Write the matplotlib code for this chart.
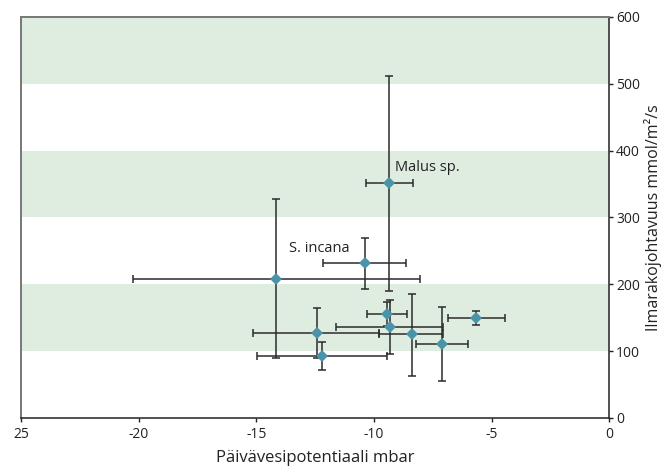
import matplotlib.pyplot as plt

# Daytime water potential (mbar) vs. stomatal conductance (mmol/m2/s)
potential = [-14.15, -10.4, -9.35, -9.45, -9.3, -8.4, -7.1, -5.65, -12.4, -12.2]
pot_low = [-20.25, -12.15, -10.35, -10.3, -11.6, -9.8, -8.2, -6.85, -15.15, -14.95]
pot_high = [-8.05, -8.65, -8.35, -8.6, -7.05, -7.05, -6.0, -4.45, -9.8, -9.45]

conductance = [208, 231, 351, 156, 136, 125, 111, 150, 127, 92]
cond_low = [90, 193, 190, 138, 95, 63, 55, 139, 89, 71]
cond_high = [327, 269, 512, 174, 177, 186, 166, 160, 165, 114]

labels = {1: 'S. incana', 2: 'Malus sp.'}
label_pos = {1: (-13.6, 254), 2: (-9.1, 374)}

bands = [(100, 200), (300, 400), (500, 600)]
x_ticks = [-25, -20, -15, -10, -5, 0]
x_tick_labels = ['25', '-20', '-15', '-10', '-5', '0']
y_ticks = [0, 100, 200, 300, 400, 500, 600]

plt.rcParams['font.family'] = ['Open Sans', 'DejaVu Sans']

fig = plt.figure(figsize=(6.64, 4.70), dpi=100)
ax = fig.add_axes([0.0316, 0.111, 0.886, 0.853])

for lo, hi in bands:
    ax.axhspan(lo, hi, color='#dfede0', lw=0, zorder=0)

xerr = [[p - l for p, l in zip(potential, pot_low)],
        [h - p for p, h in zip(potential, pot_high)]]
yerr = [[c - l for c, l in zip(conductance, cond_low)],
        [h - c for c, h in zip(conductance, cond_high)]]

ax.errorbar(potential, conductance, xerr=xerr, yerr=yerr, fmt='none',
            ecolor='#2b2b2b', elinewidth=1.1, capsize=3, capthick=1.1, zorder=2)
ax.plot(potential, conductance, 'D', color='#4b93a8', markersize=6.5,
        markeredgewidth=0, zorder=3)

for i, name in labels.items():
    tx, ty = label_pos[i]
    ax.text(tx, ty, name, fontsize=10.5, color='#222222', va='center', ha='left')

ax.set_xlim(-25, 0)
ax.set_ylim(0, 600)
ax.set_xticks(x_ticks)
ax.set_xticklabels(x_tick_labels)
ax.set_yticks(y_ticks)

ax.yaxis.tick_right()
ax.yaxis.set_label_position('right')
ax.tick_params(axis='both', labelsize=10, colors='#222222', length=3, width=1)
ax.tick_params(axis='y', pad=2)

for side in ['left', 'top']:
    ax.spines[side].set_color('#777777')
    ax.spines[side].set_linewidth(1.4)
for side in ['right', 'bottom']:
    ax.spines[side].set_color('#222222')
    ax.spines[side].set_linewidth(1.1)

ax.set_xlabel('Päivävesipotentiaali mbar', fontsize=12, color='#222222', labelpad=6)
ax.set_ylabel('Ilmarakojohtavuus mmol/m²/s', fontsize=11.5, color='#222222', labelpad=3)

fig.savefig('out.png', dpi=100)
